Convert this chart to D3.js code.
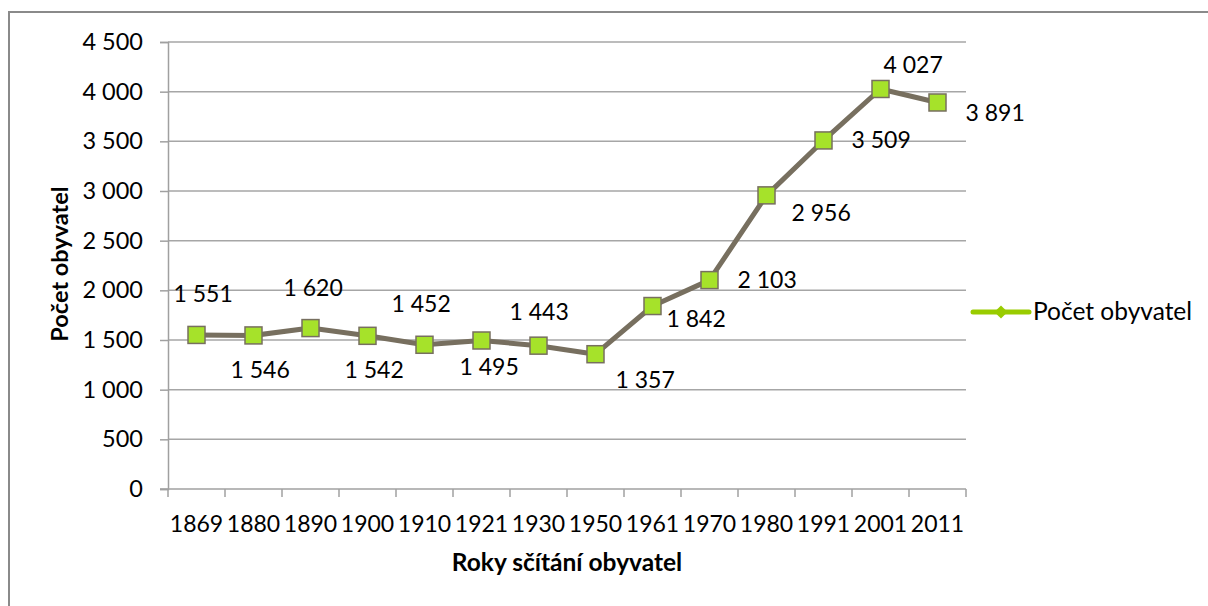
<!DOCTYPE html>
<html>
<head>
<meta charset="utf-8">
<script src="https://cdn.jsdelivr.net/npm/d3@7"></script>
<style>
	body { margin: 0; background: #fff; }
	text { font-family: Lato, "Open Sans", sans-serif; fill: #000; }
</style>
</head>
<body>
<div id="chart"></div>
<script>
// data
var years = ["1869", "1880", "1890", "1900", "1910", "1921", "1930", "1950", "1961", "1970", "1980", "1991", "2001", "2011"];
var population = [1551, 1546, 1620, 1542, 1452, 1495, 1443, 1357, 1842, 2103, 2956, 3509, 4027, 3891];
var yTicks = [0, 500, 1000, 1500, 2000, 2500, 3000, 3500, 4000, 4500];
var seriesName = "Počet obyvatel";
var xTitle = "Roky sčítání obyvatel";
var yTitle = "Počet obyvatel";

// where each data label sits relative to its point (dx to text start, dy to baseline)
var labelOffsets = [
	[-23, -33], [-23, 43], [-27, -32], [-23, 42], [-33, -33], [-22, 35], [-29, -26],
	[20, 34], [14, 21], [28, 8], [25, 26], [28, 8], [3, -16], [28, 19]
];

const W = 1208, H = 606;
const plot = { left: 168, right: 966, top: 42, bottom: 489 };

const fmt = v => d3.format(",")(v).replace(/,/g, " ");

const svg = d3.select("#chart").append("svg")
	.attr("width", W)
	.attr("height", H);

// outer chart border
svg.append("rect")
	.attr("x", 9).attr("y", 12)
	.attr("width", W + 20).attr("height", H + 20)
	.style("fill", "none")
	.style("stroke", "#8a8a8a")
	.style("stroke-width", 2);

const x = d3.scaleBand().domain(years).range([plot.left, plot.right]);
const y = d3.scaleLinear().domain([0, 4500]).range([plot.bottom, plot.top]);

// gridlines
svg.append("g")
	.selectAll("line")
	.data(yTicks.filter(d => d > 0))
	.enter().append("line")
	.attr("x1", plot.left).attr("x2", plot.right)
	.attr("y1", d => y(d)).attr("y2", d => y(d))
	.style("stroke", "#a6a6a6")
	.style("stroke-width", 1.5);

// y axis
const yAxis = svg.append("g")
	.attr("transform", "translate(" + plot.left + ",0)")
	.call(d3.axisLeft(y).tickValues(yTicks).tickSize(8).tickPadding(17).tickFormat(fmt));
yAxis.selectAll("text").style("font-size", "23.5px").style("font-family", "Lato");
yAxis.selectAll("line, path").style("stroke", "#a0a0a0").style("stroke-width", 1.5);

// x axis (ticks on category boundaries)
const xAxisG = svg.append("g")
	.attr("transform", "translate(0," + plot.bottom + ")");
xAxisG.append("line")
	.attr("x1", plot.left - 8).attr("x2", plot.right)
	.style("stroke", "#a0a0a0").style("stroke-width", 1.5);
xAxisG.selectAll("line.tick")
	.data(years.concat(["end"]))
	.enter().append("line")
	.attr("class", "tick")
	.attr("x1", (d, i) => plot.left + i * x.bandwidth())
	.attr("x2", (d, i) => plot.left + i * x.bandwidth())
	.attr("y1", 0).attr("y2", 8)
	.style("stroke", "#a0a0a0").style("stroke-width", 1.5);
xAxisG.selectAll("text")
	.data(years)
	.enter().append("text")
	.attr("x", d => x(d) + x.bandwidth() / 2)
	.attr("y", 43)
	.attr("text-anchor", "middle")
	.style("font-size", "23px")
	.text(d => d);

// series line
const line = d3.line()
	.x((d, i) => x(years[i]) + x.bandwidth() / 2)
	.y(d => y(d));

svg.append("path")
	.datum(population)
	.attr("d", line)
	.style("fill", "none")
	.style("stroke", "#776f5f")
	.style("stroke-width", 5)
	.style("stroke-linejoin", "round");

// markers
const ms = 17;
svg.selectAll("rect.marker")
	.data(population)
	.enter().append("rect")
	.attr("class", "marker")
	.attr("x", (d, i) => x(years[i]) + x.bandwidth() / 2 - ms / 2)
	.attr("y", d => y(d) - ms / 2)
	.attr("width", ms).attr("height", ms)
	.style("fill", "#a6e22a")
	.style("stroke", "#776f5f")
	.style("stroke-width", 1.5);

// data labels
svg.selectAll("text.label")
	.data(population)
	.enter().append("text")
	.attr("class", "label")
	.attr("x", (d, i) => x(years[i]) + x.bandwidth() / 2 + labelOffsets[i][0])
	.attr("y", (d, i) => y(d) + labelOffsets[i][1])
	.style("font-size", "23px")
	.text(d => fmt(d));

// axis titles
svg.append("text")
	.attr("x", (plot.left + plot.right) / 2)
	.attr("y", 571)
	.attr("text-anchor", "middle")
	.style("font-size", "24.5px")
	.style("font-weight", "bold")
	.text(xTitle);

svg.append("text")
	.attr("transform", "translate(68,264) rotate(-90)")
	.attr("text-anchor", "middle")
	.style("font-size", "23.5px")
	.style("font-weight", "bold")
	.text(yTitle);

// legend
const lg = svg.append("g").attr("transform", "translate(973,312)");
lg.append("line")
	.attr("x1", 0).attr("x2", 56)
	.style("stroke", "#99cc00")
	.style("stroke-width", 5)
	.style("stroke-linecap", "round");
lg.append("path")
	.attr("d", d3.symbol().type(d3.symbolDiamond2).size(110)())
	.attr("transform", "translate(28,0)")
	.style("fill", "#99cc00");
lg.append("text")
	.attr("x", 60)
	.attr("y", 8)
	.style("font-size", "24.5px")
	.text(seriesName);
</script>
</body>
</html>
